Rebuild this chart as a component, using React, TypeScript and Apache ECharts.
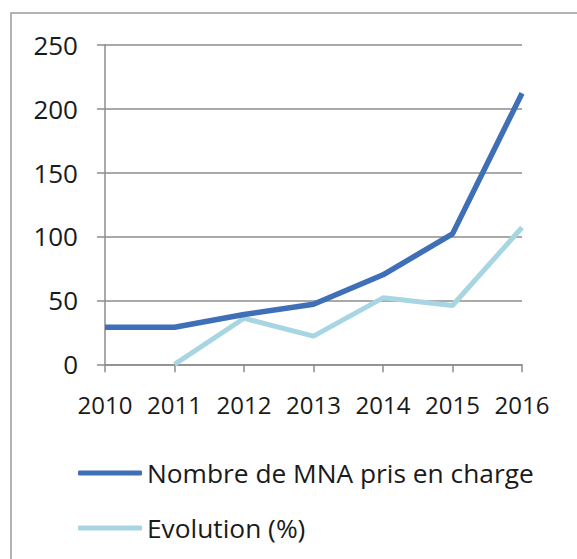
import React, { useEffect, useRef } from "react";
import * as echarts from "echarts";

const years = ["2010", "2011", "2012", "2013", "2014", "2015", "2016"];
const mnaCount = [29, 29, 39, 47, 70, 102, 212];
const evolutionPct: (number | null)[] = [null, 0, 36, 22, 52, 46, 107];
const yTicks = { min: 0, max: 250, interval: 50 };

const FONT = "'Open Sans', 'Noto Sans', sans-serif";
const GRID_GRAY = "#8c8c8c";

export default function App() {
  const ref = useRef<HTMLDivElement>(null);

  useEffect(() => {
    document.body.style.margin = "0";
    const chart = echarts.init(ref.current!, undefined, { renderer: "svg" });
    chart.setOption({
      animation: false,
      backgroundColor: "#ffffff",
      textStyle: { fontFamily: FONT },
      graphic: [
        {
          type: "rect",
          shape: { x: 11, y: 13, width: 700, height: 700 },
          style: { fill: "none", stroke: "#9a9a9a", lineWidth: 1.5 },
          silent: true,
        },
      ],
      grid: { left: 105, right: 55, top: 44.7, bottom: 194.7 },
      xAxis: {
        type: "category",
        data: years,
        boundaryGap: false,
        axisLine: { lineStyle: { color: GRID_GRAY, width: 1.5 } },
        axisTick: { alignWithLabel: true, length: 8, lineStyle: { color: GRID_GRAY, width: 1.5 } },
        axisLabel: {
          color: "#1a1a1a",
          fontSize: 24,
          fontFamily: FONT,
          margin: 28,
          interval: 0,
          hideOverlap: false,
        },
      },
      yAxis: {
        type: "value",
        min: yTicks.min,
        max: yTicks.max,
        interval: yTicks.interval,
        axisLine: { show: true, lineStyle: { color: GRID_GRAY, width: 1.5 } },
        axisTick: { show: true, length: 8, lineStyle: { color: GRID_GRAY, width: 1.5 } },
        splitLine: { show: true, lineStyle: { color: GRID_GRAY, width: 1.5 } },
        axisLabel: { color: "#1a1a1a", fontSize: 26, fontFamily: FONT, margin: 27 },
      },
      legend: {
        orient: "vertical",
        left: 73,
        top: 453,
        itemWidth: 64,
        itemHeight: 5,
        itemGap: 25,
        icon: "roundRect",
        textStyle: { color: "#1a1a1a", fontSize: 26.3, fontFamily: FONT, lineHeight: 30 },
        data: ["Nombre de MNA pris en charge", "Evolution (%)"],
      },
      series: [
        {
          name: "Nombre de MNA pris en charge",
          type: "line",
          data: mnaCount,
          showSymbol: false,
          symbol: "none",
          color: "#3f6fb6",
          lineStyle: { color: "#3f6fb6", width: 5.5 },
          z: 3,
        },
        {
          name: "Evolution (%)",
          type: "line",
          data: evolutionPct,
          showSymbol: false,
          symbol: "none",
          color: "#a8d5e2",
          lineStyle: { color: "#a8d5e2", width: 5 },
          z: 2,
        },
      ],
    });
    return () => chart.dispose();
  }, []);

  return <div ref={ref} style={{ width: 577, height: 559 }} />;
}
